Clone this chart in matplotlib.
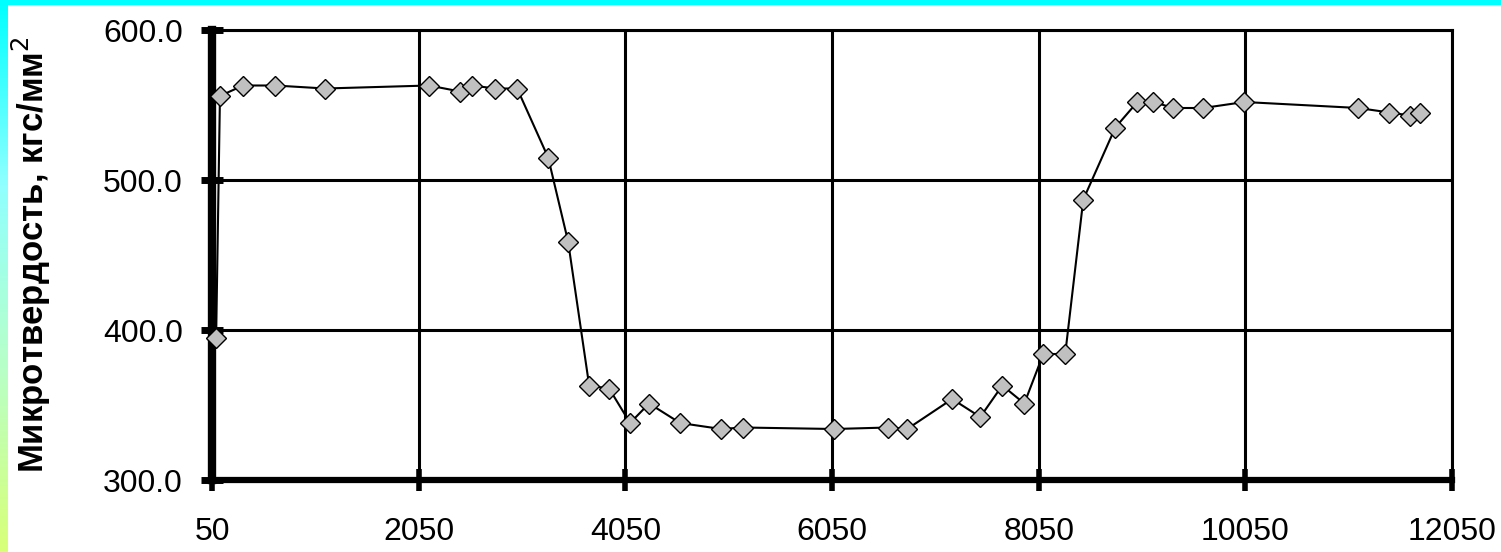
import numpy as np
import matplotlib
matplotlib.use("Agg")
from matplotlib import pyplot as plt
from matplotlib.colors import LinearSegmentedColormap

# Microhardness profile across the weld (distance, hardness)
distance = [90, 127, 350, 660, 1144, 2150, 2451, 2567, 2790, 3003,
            3303, 3496, 3700, 3893, 4096, 4280, 4580, 4977, 5190, 6071,
            6594, 6778, 7213, 7485, 7698, 7911, 8095, 8307, 8482, 8792,
            9005, 9160, 9353, 9643, 10040, 11144, 11444, 11647, 11744]
hardness = [395, 556, 563, 563, 561, 563, 559, 563, 561, 561,
            515, 459, 363, 361, 338, 351, 338, 334, 335, 334,
            335, 334, 354, 342, 363, 351, 384, 384, 487, 535,
            552, 552, 548, 548, 552, 548, 545, 543, 545]

x_ticks = [50, 2050, 4050, 6050, 8050, 10050, 12050]
y_ticks = [300, 400, 500, 600]

W, H = 1501, 552
fig = plt.figure(figsize=(W / 100, H / 100), dpi=100)
fig.patch.set_facecolor("white")

# frame: cyan strip on top, gradient strip on the left
fig.patches.append(plt.Rectangle((0, 1 - 4 / H), 1, 4 / H, transform=fig.transFigure,
                                 color="#00ffff", zorder=0))
strip = fig.add_axes([0, 0, 8 / W, 1])
cmap = LinearSegmentedColormap.from_list("edge", ["#00ffff", "#90ffff", "#b8ffc8", "#d8ff78"])
strip.imshow(np.linspace(0, 1, 200).reshape(-1, 1), aspect="auto", cmap=cmap)
strip.axis("off")

ax = fig.add_axes([212 / W, 1 - 480 / H, 1240 / W, 450 / H])
ax.plot(distance, hardness, color="black", lw=1.5, marker="D", ms=10,
        mfc="#c0c0c0", mec="black", mew=1.0, zorder=3, clip_on=False)

ax.set_xlim(50, 12050)
ax.set_ylim(300, 600)
ax.set_xticks(x_ticks)
ax.set_yticks(y_ticks)
ax.set_yticklabels([f"{v:.1f}" for v in y_ticks])
ax.grid(True, color="black", lw=2.2)
ax.set_axisbelow(True)

for side in ["top", "right"]:
    ax.spines[side].set_linewidth(2.2)
ax.spines["left"].set_linewidth(6)
ax.spines["bottom"].set_linewidth(4.5)

ax.tick_params(axis="y", direction="inout", length=16, width=5, pad=13,
               labelsize=23)
ax.tick_params(axis="x", direction="inout", length=16, width=4, pad=19,
               labelsize=23)
for lab in ax.get_xticklabels() + ax.get_yticklabels():
    lab.set_fontfamily("Liberation Sans")

ax.set_ylabel("Микротвердость, кгс/мм$^2$", fontsize=25, fontweight="bold",
              fontfamily="Liberation Sans")
ax.yaxis.set_label_coords(-0.128, 0.5)

plt.savefig("out.png", dpi=100)
